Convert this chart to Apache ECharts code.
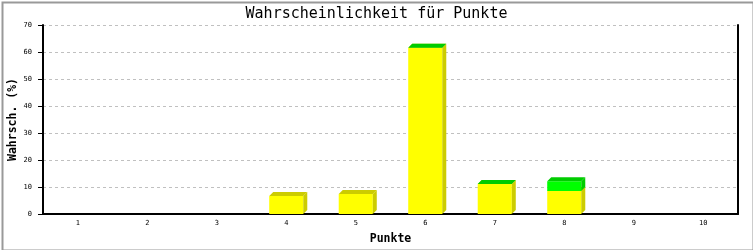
<!DOCTYPE html>
<html><head><meta charset="utf-8">
<script src="https://cdn.jsdelivr.net/npm/echarts@6/dist/echarts.min.js"></script>
<style>html,body{margin:0;padding:0;background:#fff}#c{width:753px;height:250px}</style>
</head><body><div id="c"></div>
<script>
const categories = ['1','2','3','4','5','6','7','8','9','10'];
const yellowValues = [null, null, null, 6.7, 7.4, 61.6, 11.1, 8.5, null, null];
const greenValues  = [null, null, null, null, null, 0, 0, 3.6, null, null];
const titleText = 'Wahrscheinlichkeit für Punkte';
const xName = 'Punkte';
const yName = 'Wahrsch. (%)';

const FONT = 'DejaVu Sans Mono';

function bar3D(front, dark) {
  return function (params, api) {
    const idx = api.value(0);
    const p0 = api.coord([idx, api.value(1)]);
    const p1 = api.coord([idx, api.value(2)]);
    const w = api.size([1, 0])[0] * 0.49;
    const xl = p0[0] - w / 2, xr = p0[0] + w / 2;
    const yb = p0[1], yt = p1[1], d = 4;
    const children = [];
    if (yb - yt > 0) {
      children.push({type: 'rect', shape: {x: xl, y: yt, width: w, height: yb - yt}, style: {fill: front}});
    }
    children.push({type: 'polygon', shape: {points: [[xr, yb], [xr, yt], [xr + d, yt - d], [xr + d, yb - d]]}, style: {fill: dark}});
    children.push({type: 'polygon', shape: {points: [[xl, yt], [xl + d, yt - d], [xr + d, yt - d], [xr, yt]]}, style: {fill: dark}});
    return {type: 'group', children};
  };
}

const yellowData = [];
const greenData = [];
categories.forEach((c, i) => {
  if (yellowValues[i] != null) yellowData.push([i, 0, yellowValues[i]]);
  if (greenValues[i] != null) greenData.push([i, yellowValues[i] || 0, (yellowValues[i] || 0) + greenValues[i]]);
});

const chart = echarts.init(document.getElementById('c'), null, {renderer: 'canvas'});
chart.setOption({
  animation: false,
  backgroundColor: '#fff',
  title: {
    text: titleText, left: 'center', top: 2,
    textStyle: {fontFamily: FONT, fontSize: 15, fontWeight: 'normal', color: '#000'}
  },
  grid: {left: 43, right: 15, top: 25, bottom: 36, containLabel: false, outerBoundsMode: 'none'},
  xAxis: {
    type: 'category', data: categories, boundaryGap: true,
    name: xName, nameLocation: 'middle', nameGap: 19, nameMoveOverlap: false,
    nameTextStyle: {fontFamily: FONT, fontSize: 11.5, fontWeight: 'bold', color: '#000'},
    axisLine: {lineStyle: {color: '#000', width: 2}},
    axisTick: {show: false},
    axisLabel: {fontFamily: FONT, fontSize: 7, color: '#000', margin: 6},
    splitLine: {show: false}
  },
  yAxis: [{
    type: 'value', min: 0, max: 70, interval: 10,
    name: yName, nameLocation: 'middle', nameGap: 24, nameMoveOverlap: false,
    nameTextStyle: {fontFamily: FONT, fontSize: 11.5, fontWeight: 'bold', color: '#000'},
    axisLine: {show: true, lineStyle: {color: '#000', width: 2}},
    axisTick: {show: true, inside: false, length: 5, lineStyle: {color: '#000', width: 1}},
    axisLabel: {fontFamily: FONT, fontSize: 7, color: '#000', margin: 11},
    splitLine: {show: true, lineStyle: {color: '#c0c0c0', width: 1, type: [3, 3]}}
  }, {
    type: 'value', min: 0, max: 70, interval: 10, position: 'right',
    axisLine: {show: true, lineStyle: {color: '#000', width: 2}},
    axisTick: {show: false}, axisLabel: {show: false}, splitLine: {show: false}
  }],
  series: [{
    type: 'custom', name: 'gelb', yAxisIndex: 0, data: yellowData,
    renderItem: bar3D('#ffff00', '#cccc00'), encode: {x: 0, y: [1, 2]}
  }, {
    type: 'custom', name: 'grün', yAxisIndex: 0, data: greenData,
    renderItem: bar3D('#00ff00', '#00cc00'), encode: {x: 0, y: [1, 2]}
  }],
  graphic: [{
    type: 'rect', left: 0, top: 0, z: 100,
    shape: {x: 1, y: 1, width: 751, height: 248},
    style: {fill: 'none', stroke: '#999', lineWidth: 2}
  }]
});
</script>
</body></html>
